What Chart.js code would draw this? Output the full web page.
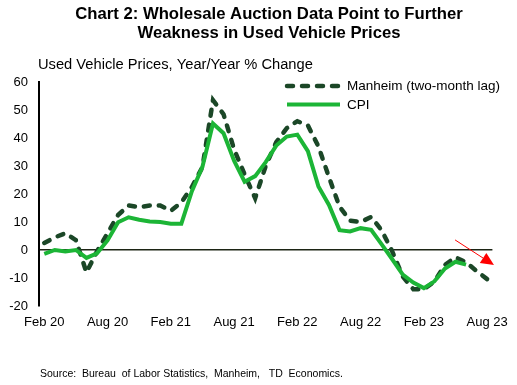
<!DOCTYPE html>
<html>
<head>
<meta charset="utf-8">
<script src="https://cdn.jsdelivr.net/npm/chart.js@4.4.1/dist/chart.umd.min.js"></script>
<style>
  body { margin: 0; background: #fff; }
  canvas { display: block; }
</style>
</head>
<body>
<canvas id="chart" width="517" height="385"></canvas>
<script>
// months Feb 20 .. Aug 23
const months = ['Feb 20','Mar 20','Apr 20','May 20','Jun 20','Jul 20','Aug 20','Sep 20','Oct 20','Nov 20','Dec 20','Jan 21',
  'Feb 21','Mar 21','Apr 21','May 21','Jun 21','Jul 21','Aug 21','Sep 21','Oct 21','Nov 21','Dec 21','Jan 22',
  'Feb 22','Mar 22','Apr 22','May 22','Jun 22','Jul 22','Aug 22','Sep 22','Oct 22','Nov 22','Dec 22','Jan 23',
  'Feb 23','Mar 23','Apr 23','May 23','Jun 23','Jul 23','Aug 23']
const tickLabels = ['Feb 20','Aug 20','Feb 21','Aug 21','Feb 22','Aug 22','Feb 23','Aug 23']

const manheim = [2.5, 4.5, 6.0, 3.5, -8.0, -0.5, 6.0, 12.5, 15.9, 15.3, 15.9, 15.9,
  14.0, 17.0, 22.5, 29.6, 53.5, 48.5, 36.0, 27.0, 18.5, 30.0, 38.5, 43.5,
  46.0, 44.5, 37.0, 26.0, 15.5, 10.5, 10.0, 11.8, 7.0, -0.5, -9.5, -14.0,
  -14.0, -11.3, -5.3, -2.6, -4.4, -7.5, -10.4]
const cpi = [-1.4, 0.0, -0.5, 0.0, -2.8, -1.2, 3.4, 9.9, 11.7, 10.8, 10.2, 10.0,
  9.4, 9.4, 21.0, 29.7, 45.2, 41.7, 31.9, 24.4, 26.4, 31.4, 37.3, 40.5,
  41.2, 35.3, 22.7, 16.1, 7.1, 6.6, 7.8, 7.2, 2.0, -3.3, -8.8, -11.6,
  -13.6, -11.2, -6.6, -4.2, -5.2, null, null]

const yTicks = [-20, -10, 0, 10, 20, 30, 40, 50, 60]

// red arrow annotation, in (month index, value)
const arrowFrom = [38.96, 3.6]
const arrowTo = [42.65, -5.4]

const FONT = '"Liberation Sans", Arial, sans-serif'
const darkGreen = '#1b4727'
const brightGreen = '#1cb536'

const textPlugin = {
    id: 'texts',
    afterDraw(chart){
        let ctx = chart.ctx
        let xs = chart.scales.x
        let ys = chart.scales.y
        ctx.save()
        ctx.fillStyle = '#000'

        // title
        ctx.font = 'bold 16.7px ' + FONT
        ctx.textAlign = 'center'
        ctx.textBaseline = 'alphabetic'
        ctx.fillText('Chart 2: Wholesale Auction Data Point to Further', 269, 18.5)
        ctx.fillText('Weakness in Used Vehicle Prices', 269, 38)

        // subtitle
        ctx.font = '14.7px ' + FONT
        ctx.textAlign = 'left'
        ctx.fillText('Used Vehicle Prices, Year/Year % Change', 38, 68.5)

        // legend
        let ds = chart.data.datasets
        let rows = [86, 104.5]
        ds.forEach((d, i) => {
            ctx.beginPath()
            ctx.strokeStyle = d.borderColor
            ctx.lineWidth = d.borderWidth
            ctx.lineCap = d.borderCapStyle || 'butt'
            ctx.setLineDash(d.borderDash || [])
            ctx.moveTo(287, rows[i])
            ctx.lineTo(340, rows[i])
            ctx.stroke()
            ctx.setLineDash([])
            ctx.fillStyle = '#000'
            ctx.font = '13.5px ' + FONT
            ctx.textBaseline = 'middle'
            ctx.fillText(d.label, 347, rows[i] + 0.5)
        })

        // source
        ctx.font = '10.5px ' + FONT
        ctx.textBaseline = 'alphabetic'
        ctx.fillText('Source:  Bureau  of Labor Statistics,  Manheim,   TD  Economics.', 40, 377)

        // arrow
        let x1 = xs.getPixelForValue(arrowFrom[0]), y1 = ys.getPixelForValue(arrowFrom[1])
        let x2 = xs.getPixelForValue(arrowTo[0]), y2 = ys.getPixelForValue(arrowTo[1])
        let ang = Math.atan2(y2 - y1, x2 - x1)
        let headLen = 13, headW = 6
        let bx = x2 - headLen * Math.cos(ang), by = y2 - headLen * Math.sin(ang)
        ctx.strokeStyle = '#ff0000'
        ctx.fillStyle = '#ff0000'
        ctx.lineWidth = 1
        ctx.beginPath()
        ctx.moveTo(x1, y1)
        ctx.lineTo(bx, by)
        ctx.stroke()
        ctx.beginPath()
        ctx.moveTo(x2, y2)
        ctx.lineTo(bx + headW * Math.sin(ang), by - headW * Math.cos(ang))
        ctx.lineTo(bx - headW * Math.sin(ang), by + headW * Math.cos(ang))
        ctx.closePath()
        ctx.fill()
        ctx.restore()
    }
}

new Chart(document.getElementById('chart'), {
    type: 'line',
    data: {
        labels: months,
        datasets: [{
            label: 'Manheim (two-month lag)',
            data: manheim,
            borderColor: darkGreen,
            borderWidth: 4.5,
            borderDash: [6, 9],
            borderCapStyle: 'round',
            pointRadius: 0,
            tension: 0,
            order: 2
        }, {
            label: 'CPI',
            data: cpi,
            borderColor: brightGreen,
            borderWidth: 4,
            pointRadius: 0,
            tension: 0,
            order: 1
        }]
    },
    options: {
        responsive: false,
        devicePixelRatio: 1,
        animation: false,
        layout: { padding: { left: 0, right: 23, top: 82, bottom: 0 } },
        plugins: {
            legend: { display: false },
            title: { display: false },
            tooltip: { enabled: false }
        },
        scales: {
            x: {
                type: 'category',
                offset: true,
                grid: { display: false, drawTicks: false },
                border: { display: false },
                ticks: {
                    autoSkip: false,
                    maxRotation: 0,
                    padding: 9,
                    color: '#000',
                    font: { family: FONT, size: 13 },
                    callback: (v, i) => tickLabels.includes(months[i]) ? months[i] : ''
                },
                afterFit: (s) => { s.height = 385 - 306 }
            },
            y: {
                min: yTicks[0],
                max: yTicks[yTicks.length - 1],
                afterBuildTicks: (s) => { s.ticks = yTicks.map(v => ({ value: v })) },
                grid: {
                    drawTicks: false,
                    color: (c) => c.tick && c.tick.value === 0 ? '#1c2414' : 'rgba(0,0,0,0)',
                    lineWidth: 1.5
                },
                border: { display: true, color: '#000', width: 2 },
                ticks: {
                    padding: 11,
                    color: '#000',
                    font: { family: FONT, size: 13 }
                },
                afterFit: (s) => { s.width = 39 }
            }
        }
    },
    plugins: [textPlugin]
})
</script>
</body>
</html>
